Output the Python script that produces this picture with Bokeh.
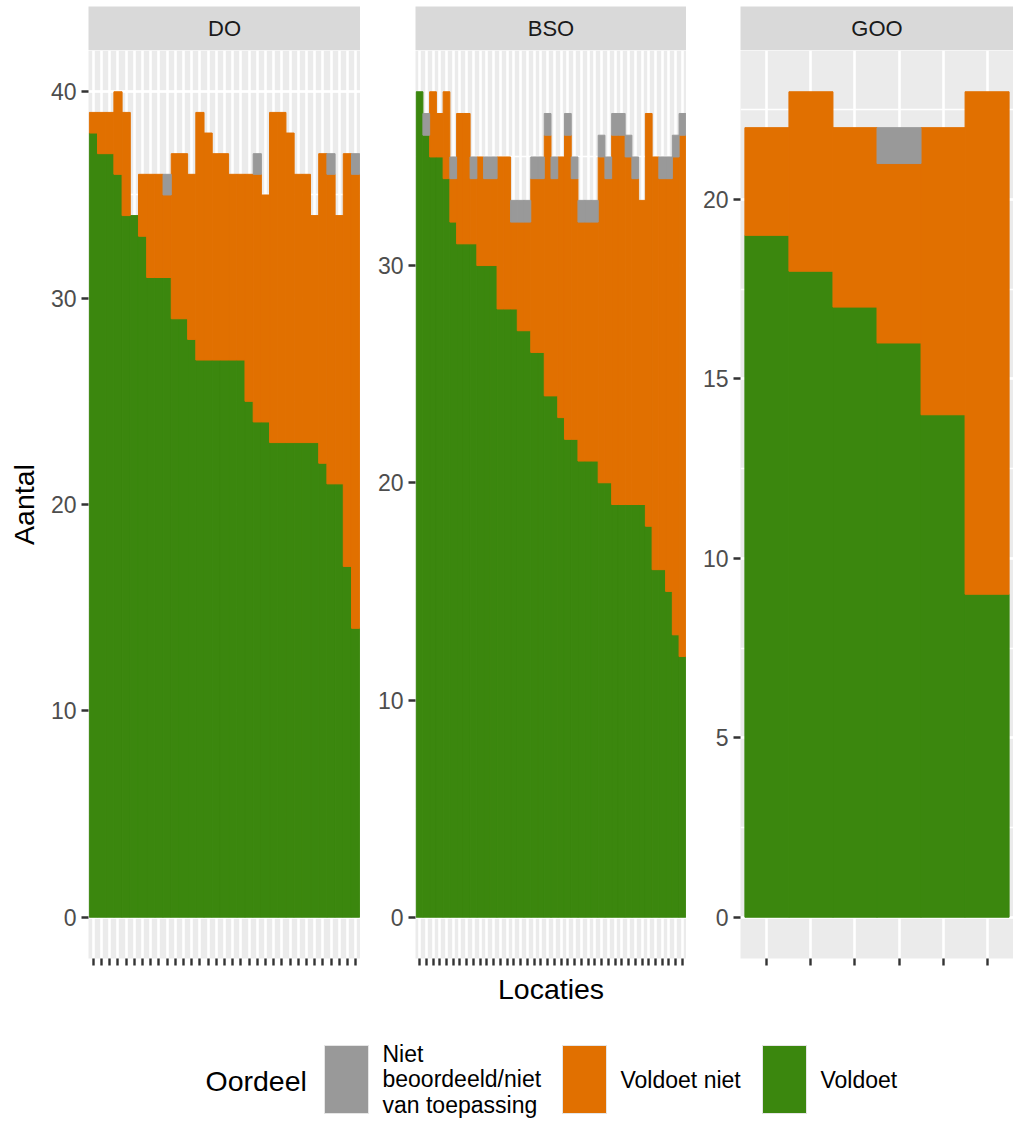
from bokeh.plotting import figure
from bokeh.layouts import column, row
from bokeh.models import Range1d, FixedTicker, SingleIntervalTicker, Label, ColumnDataSource
from bokeh.embed import file_html
from bokeh.resources import INLINE
from bokeh.core.properties import value

# ---------------- data ----------------
panels = ["DO", "BSO", "GOO"]
categories = ["Niet beoordeeld/niet van toepassing", "Voldoet niet", "Voldoet"]
legend_labels = ["Niet\nbeoordeeld/niet\nvan toepassing", "Voldoet niet", "Voldoet"]
colors = ["#999999", "#E17000", "#3B870E"]

do_voldoet = [38, 37, 37, 36, 34, 34, 33, 31, 31, 31, 29, 29, 28, 27, 27, 27, 27,
              27, 27, 25, 24, 24, 23, 23, 23, 23, 23, 23, 22, 21, 21, 17, 14]
do_voldoet_niet = [1, 2, 2, 4, 5, 0, 3, 5, 5, 4, 8, 8, 8, 12, 11, 10, 10,
                   9, 9, 11, 12, 11, 16, 16, 15, 13, 13, 11, 15, 15, 13, 20, 22]
do_niet_beoordeeld = [0, 0, 0, 0, 0, 0, 0, 0, 0, 1, 0, 0, 0, 0, 0, 0, 0,
                      0, 0, 0, 1, 0, 0, 0, 0, 0, 0, 0, 0, 1, 0, 0, 1]

bso_voldoet = [38, 36, 35, 35, 34, 32, 31, 31, 31, 30, 30, 30, 28, 28, 28, 27, 27, 26, 26, 24,
               24, 23, 22, 22, 21, 21, 21, 20, 20, 19, 19, 19, 19, 19, 18, 16, 16, 15, 13, 12]
bso_voldoet_niet = [0, 0, 3, 2, 4, 2, 6, 6, 3, 5, 4, 4, 7, 7, 4, 5, 5, 8, 8, 12,
                    10, 12, 14, 12, 11, 11, 11, 15, 14, 17, 17, 16, 15, 14, 19, 19, 18, 19, 22, 24]
bso_niet_beoordeeld = [0, 1, 0, 0, 0, 1, 0, 0, 1, 0, 1, 1, 0, 0, 1, 1, 1, 1, 1, 1,
                       1, 0, 1, 1, 1, 1, 1, 1, 1, 1, 1, 1, 1, 0, 0, 0, 1, 1, 1, 1]

goo_voldoet = [19, 18, 17, 16, 14, 9]
goo_voldoet_niet = [3, 5, 5, 5, 8, 14]
goo_niet_beoordeeld = [0, 0, 0, 1, 0, 0]

y_intervals = [10, 10, 5]

# ---------------- style ----------------
FONT = "Liberation Sans"
PANEL_BG = "#EBEBEB"
STRIP_BG = "#D9D9D9"
AXIS_TXT = "#4D4D4D"
TICK_COL = "#333333"

left_borders = [88, 55, 54]
frame_widths = [272, 271, 273]
STRIP_TOP = 6
STRIP_H = 44
PANEL_FRAME_H = 908
PANEL_BOTTOM = 12


def make_panel(idx, voldoet, niet, nvt):
    n = len(voldoet)
    xs = list(range(1, n + 1))
    totals = [a + b + c for a, b, c in zip(voldoet, niet, nvt)]
    top = max(totals)
    p = figure(width=left_borders[idx] + frame_widths[idx], height=PANEL_FRAME_H + PANEL_BOTTOM,
               x_range=Range1d(0.4, n + 0.6), y_range=Range1d(-0.05 * top, 1.05 * top),
               output_backend="svg", toolbar_location=None,
               min_border_left=left_borders[idx], min_border_right=0,
               min_border_top=0, min_border_bottom=PANEL_BOTTOM,
               background_fill_color=PANEL_BG, border_fill_color="white",
               outline_line_color=None)

    # stack from bottom: Voldoet, Voldoet niet, Niet beoordeeld
    layers = [(voldoet, colors[2]), (niet, colors[1]), (nvt, colors[0])]
    base = [0] * n
    for vals, col in layers:
        tops = [b0 + v for b0, v in zip(base, vals)]
        src = ColumnDataSource(dict(x=xs, bottom=base, top=tops,
                                    la=[1.0 if v > 0 else 0.0 for v in vals]))
        p.vbar(x="x", bottom="bottom", top="top", width=1.0, source=src,
               fill_color=col, line_color=col, line_width=1.0, line_alpha="la")
        base = tops

    tick = FixedTicker(ticks=xs)
    p.xaxis.ticker = tick
    p.xgrid.ticker = tick
    yt = SingleIntervalTicker(interval=y_intervals[idx], num_minor_ticks=2)
    p.yaxis.ticker = yt
    p.ygrid.ticker = yt

    for ax in (p.xaxis, p.yaxis):
        ax.axis_line_color = None
        ax.major_tick_line_color = TICK_COL
        ax.major_tick_line_width = 2.4
        ax.major_tick_out = 7
        ax.major_tick_in = 0
        ax.minor_tick_line_color = None
    p.xaxis.major_label_text_color = None
    p.xaxis.major_label_standoff = 0
    p.yaxis.major_label_text_font = FONT
    p.yaxis.major_label_text_font_size = "23px"
    p.yaxis.major_label_text_color = AXIS_TXT
    p.yaxis.major_label_standoff = 5

    p.grid.grid_line_color = "white"
    p.grid.grid_line_width = 2.6
    p.ygrid.minor_grid_line_color = "white"
    p.ygrid.minor_grid_line_width = 1.3

    if idx == 0:
        p.yaxis.axis_label = "Aantal"
        p.yaxis.axis_label_text_font = FONT
        p.yaxis.axis_label_text_font_size = "28.5px"
        p.yaxis.axis_label_text_font_style = "normal"
        p.yaxis.axis_label_text_color = "black"
        p.yaxis.axis_label_standoff = 8
    return p


def make_strip(idx, name):
    s = figure(width=left_borders[idx] + frame_widths[idx], height=STRIP_TOP + STRIP_H,
               x_range=Range1d(0, 1), y_range=Range1d(0, 1),
               output_backend="svg", toolbar_location=None,
               x_axis_location=None, y_axis_location=None,
               min_border_left=left_borders[idx], min_border_right=0,
               min_border_top=STRIP_TOP, min_border_bottom=0,
               background_fill_color=STRIP_BG, border_fill_color="white",
               outline_line_color=None)
    s.xgrid.visible = False
    s.ygrid.visible = False
    s.add_layout(Label(x=0.5, y=0.5, text=name, text_align="center", text_baseline="middle",
                       text_font=FONT, text_font_size="22px", text_color="#1A1A1A"))
    return s


series = [
    (do_voldoet, do_voldoet_niet, do_niet_beoordeeld),
    (bso_voldoet, bso_voldoet_niet, bso_niet_beoordeeld),
    (goo_voldoet, goo_voldoet_niet, goo_niet_beoordeeld),
]

strips = [make_strip(i, panels[i]) for i in range(3)]
plots = [make_panel(i, *series[i]) for i in range(3)]

# ---------------- bottom: x title + legend ----------------
total_w = sum(left_borders) + sum(frame_widths)
BOT_H = 150
b = figure(width=total_w, height=BOT_H, x_range=Range1d(0, total_w), y_range=Range1d(BOT_H, 0),
           output_backend="svg", toolbar_location=None,
           x_axis_location=None, y_axis_location=None, min_border=0,
           background_fill_color="white", border_fill_color="white", outline_line_color=None)
b.xgrid.visible = False
b.ygrid.visible = False

b.add_layout(Label(x=left_borders[0] + (total_w - left_borders[0]) / 2, y=18, text="Locaties",
                   text_align="center", text_baseline="middle",
                   text_font=FONT, text_font_size="28.5px", text_color="black"))
b.add_layout(Label(x=205, y=110, text="Oordeel", text_align="left", text_baseline="middle",
                   text_font=FONT, text_font_size="28.5px", text_color="black"))

key_left = [324, 562, 762]
key_w = 44
b.quad(left=key_left, right=[k + key_w for k in key_left], top=[75] * 3, bottom=[143] * 3,
       fill_color=colors, line_color="#E5E5E5", line_width=1)
b.text(x=[k + key_w + 14 for k in key_left], y=[109] * 3, text=legend_labels,
       text_align="left", text_baseline="middle", text_font=value(FONT),
       text_font_size="23px", text_color="black", text_line_height=0.98)

layout = column(row(*strips), row(*plots), b)

open("out.html", "w").write(file_html(layout, INLINE))
